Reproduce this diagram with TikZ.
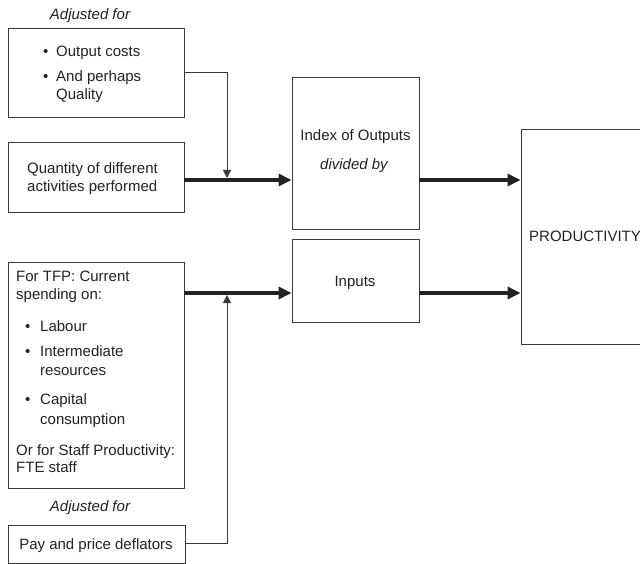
\documentclass[tikz,border=0pt]{standalone}
\usepackage{fontspec}
\setmainfont{Liberation Sans}
\usetikzlibrary{arrows.meta}
\definecolor{ink}{HTML}{222222}
\definecolor{edge}{HTML}{3A3A3A}
\tikzset{
  box/.style={draw=edge, line width=0.9pt, minimum width=#1, inner sep=0pt},
  txt/.style={anchor=base west, inner sep=0pt, text=ink, font=\fontsize{15}{18}\selectfont},
  ctxt/.style={anchor=base, inner sep=0pt, text=ink, font=\fontsize{15}{18}\selectfont},
  thick arrow/.style={draw=ink, line width=3.8pt, -{Triangle[length=13pt,width=12pt]}},
  thin arrow/.style={draw=edge, line width=1pt, -{Triangle[length=8pt,width=8pt]}}
}
\begin{document}
\begin{tikzpicture}[x=1pt,y=-1pt]
\useasboundingbox (0,0) rectangle (640,564);
% boxes
\node[box=176pt, minimum height=89pt] (adj) at (96,72.5) {};
\node[box=176pt, minimum height=70pt] (qty) at (96,177) {};
\node[box=127pt, minimum height=152pt] (index) at (355.5,153) {};
\node[box=127pt, minimum height=83pt] (inputs) at (355.5,280.5) {};
\node[box=139pt, minimum height=215pt] (prod) at (590.5,236.5) {};
\node[box=176pt, minimum height=226pt] (spend) at (96,375) {};
\node[box=177pt, minimum height=38pt] (pay) at (96.5,544) {};
% texts
\node[ctxt, font=\fontsize{15}{18}\itshape] (adjA) at (90,20) {Adjusted for};
\node[txt] (b1) at (43,57) {•};
\node[txt] (t1) at (56,57) {Output costs};
\node[txt] (b2) at (43,82) {•};
\node[txt] (t2) at (56,82) {And perhaps};
\node[txt] (t3) at (56,100) {Quality};
\node[txt] (q1) at (27,174) {Quantity of different};
\node[txt] (q2) at (27,192) {activities performed};
\node[ctxt] (i1) at (355.5,141) {Index of Outputs};
\node[ctxt, font=\fontsize{15}{18}\itshape] (i2) at (354,170) {divided by};
\node[ctxt] (in1) at (355,287) {Inputs};
\node[txt] (p1) at (529,242) {PRODUCTIVITY};
\node[txt] (s1) at (16,281) {For TFP: Current};
\node[txt] (s2) at (16,299) {spending on:};
\node[txt] (sb1) at (25,331) {•};
\node[txt] (s3) at (40,331) {Labour};
\node[txt] (sb2) at (25,356) {•};
\node[txt] (s4) at (40,356) {Intermediate};
\node[txt] (s5) at (40,375) {resources};
\node[txt] (sb3) at (25,404) {•};
\node[txt] (s6) at (40,404) {Capital};
\node[txt] (s7) at (40,424) {consumption};
\node[txt] (s8) at (16,455) {Or for Staff Productivity:};
\node[txt] (s9) at (16,472) {FTE staff};
\node[ctxt, font=\fontsize{15}{18}\itshape] (adjB) at (90,511) {Adjusted for};
\node[ctxt] (pay1) at (96,549) {Pay and price deflators};
% levels
\coordinate (y1) at (0,180);
\coordinate (y2) at (0,293);
\coordinate (j1) at (227,73);
\coordinate (j2) at (227,543);
% thick arrows
\draw[thick arrow] (qty.east |- y1) -- (index.west |- y1);
\draw[thick arrow] (index.east |- y1) -- (prod.west |- y1);
\draw[thick arrow] (spend.east |- y2) -- (inputs.west |- y2);
\draw[thick arrow] (inputs.east |- y2) -- (prod.west |- y2);
% thin connectors
\draw[thin arrow] (adj.east |- j1) -- (j1) -- ([yshift=2pt]j1 |- y1);
\draw[thin arrow] (pay.east |- j2) -- (j2) -- ([yshift=-2pt]j2 |- y2);
\end{tikzpicture}
\end{document}
